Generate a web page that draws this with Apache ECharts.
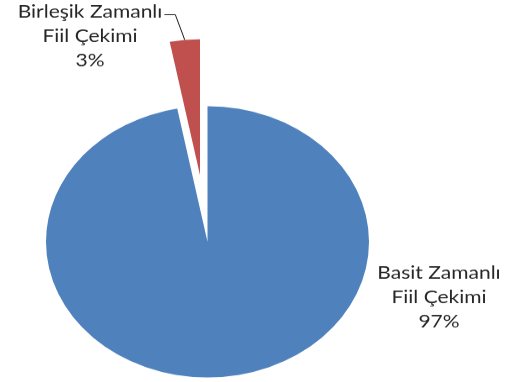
<!DOCTYPE html>
<html>
<head>
<meta charset="utf-8">
<script src="https://cdn.jsdelivr.net/npm/echarts@6/dist/echarts.min.js"></script>
<style>
  html, body { margin: 0; padding: 0; background: #ffffff; overflow: hidden; }
  #wrap { width: 505px; height: 382px; overflow: hidden; }
  /* the pie is drawn round, then flattened to an ellipse */
  #chart { width: 505px; height: 455px; transform: scaleY(0.8396); transform-origin: 0 0; }
</style>
</head>
<body>
<div id="wrap"><div id="chart"></div></div>
<script>
// Fiil çekimi türleri ve payları (%)
const categories = ['Basit Zamanlı\nFiil Çekimi', 'Birleşik Zamanlı\nFiil Çekimi'];
const values = [97, 3];
const colors = ['#4F81BD', '#C0504D'];
// how far each slice is pulled out of the pie (px)
const explode = [0, 80];

const CX = 207.5, CY = 288, R = 161.5;
const total = values.reduce((a, b) => a + b, 0);

// label anchors (centre of each text block)
const labelPos = [[439, 354], [90, 43]];

const chart = echarts.init(document.getElementById('chart'), null, { renderer: 'canvas' });

// one pie layer per slice, so each can be shifted along its own bisector
let acc = 0;
const series = values.map((v, k) => {
  const mid = (acc + v / 2) / total * 2 * Math.PI; // clockwise from 12 o'clock
  acc += v;
  const cx = CX + explode[k] * Math.sin(mid);
  const cy = CY - explode[k] * Math.cos(mid);
  // middle of the slice's outer arc, where the leader line ends
  const arcX = cx + R * Math.sin(mid);
  const arcY = cy - R * Math.cos(mid);
  return {
    type: 'pie',
    center: [cx, cy],
    radius: R,
    startAngle: 90,
    clockwise: true,
    silent: true,
    emphasis: { disabled: true },
    itemStyle: { borderWidth: 0 },
    label: {
      show: true,
      position: 'outside',
      formatter: '{b}\n{d}%',
      fontFamily: 'Lato',
      fontSize: 21,
      lineHeight: 29,
      color: '#262626',
      align: 'center',
      overflow: 'none'
    },
    labelLine: {
      show: explode[k] > 0,
      length: 10,
      length2: 10,
      lineStyle: { color: '#1a1a1a', width: 1 }
    },
    labelLayout: function (params) {
      const [lx, ly] = labelPos[k];
      const out = { x: lx, y: ly, align: 'center', verticalAlign: 'middle' };
      if (explode[k] > 0) {
        const w = params.labelRect.width;
        const h = params.labelRect.height;
        const sx = lx + w / 2 + 2;
        const sy = ly - h / 2 + 18;
        out.labelLinePoints = [[sx, sy], [sx + 11, sy], [arcX, arcY]];
      }
      return out;
    },
    data: categories.map((name, i) => ({
      name: name,
      value: values[i],
      itemStyle: { color: i === k ? colors[i] : 'rgba(0,0,0,0)' },
      label: { show: i === k },
      labelLine: { show: i === k && explode[k] > 0 }
    }))
  };
});

chart.setOption({ animation: false, series: series });
</script>
</body>
</html>
